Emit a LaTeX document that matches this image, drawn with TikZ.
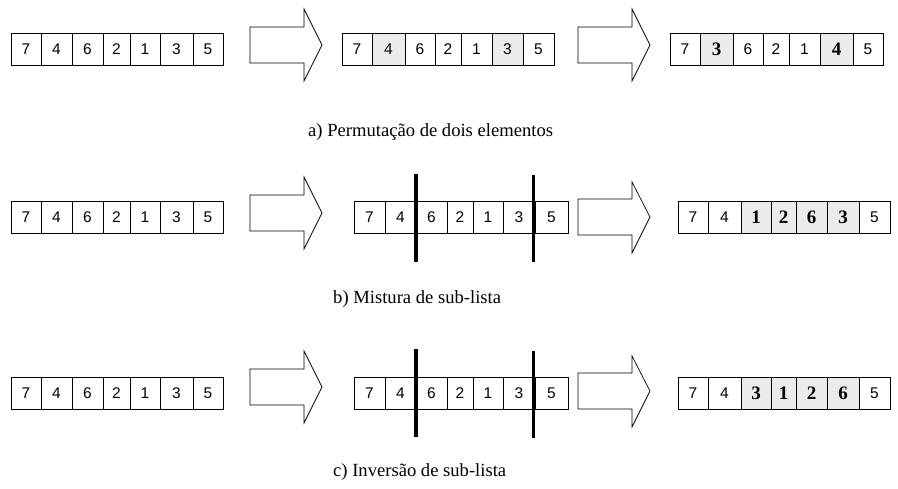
\documentclass[tikz,border=0pt]{standalone}
\usepackage{fontspec}
\setmainfont{Liberation Serif}
\newfontfamily\digitfont{Liberation Sans}
\tikzset{
  cell/.style={draw, line width=0.8pt, inner sep=0pt, minimum height=32pt, font=\digitfont\fontsize{15.5}{15.5}\selectfont},
  hot/.style={cell, fill=gray!16},
  hotb/.style={hot, font=\bfseries\fontsize{19}{19}\selectfont},
  bar/.style={line width=3.6pt},
  blockarrow/.style={line width=0.7pt, line join=miter},
  caption/.style={anchor=base west, inner sep=0pt, font=\fontsize{18.6}{22}\selectfont}
}
\begin{document}
\begin{tikzpicture}[x=1pt, y=-1pt]
  \useasboundingbox (0,0) rectangle (898,488);
  % a) permutacao
  \node[cell, minimum width=30pt] (a11) at (26,49) {7};
  \node[cell, minimum width=31pt] (a12) at (56.5,49) {4};
  \node[cell, minimum width=31pt] (a13) at (87.5,49) {6};
  \node[cell, minimum width=27pt] (a14) at (116.5,49) {2};
  \node[cell, minimum width=30pt] (a15) at (145,49) {1};
  \node[cell, minimum width=33pt] (a16) at (176.5,49) {3};
  \node[cell, minimum width=30pt] (a17) at (208,49) {5};
  \draw[blockarrow] (250,27) -- (304,27) -- (304,9) -- (322,45) -- (304,81) -- (304,63) -- (250,63) -- cycle;
  \node[cell, minimum width=30pt] (a21) at (357,49) {7};
  \node[hot, minimum width=33pt] (a22) at (388.5,49) {4};
  \node[cell, minimum width=30pt] (a23) at (420,49) {6};
  \node[cell, minimum width=26pt] (a24) at (448,49) {2};
  \node[cell, minimum width=31pt] (a25) at (476.5,49) {1};
  \node[hot, minimum width=31pt] (a26) at (507.5,49) {3};
  \node[cell, minimum width=31pt] (a27) at (538.5,49) {5};
  \draw[blockarrow] (578,27) -- (632,27) -- (632,9) -- (650,45) -- (632,81) -- (632,63) -- (578,63) -- cycle;
  \node[cell, minimum width=30pt] (a31) at (685,49) {7};
  \node[hotb, minimum width=33pt] (a32) at (716.5,49) {3};
  \node[cell, minimum width=30pt] (a33) at (748,49) {6};
  \node[cell, minimum width=26pt] (a34) at (776,49) {2};
  \node[cell, minimum width=31pt] (a35) at (804.5,49) {1};
  \node[hotb, minimum width=33pt] (a36) at (836.5,49) {4};
  \node[cell, minimum width=30pt] (a37) at (868,49) {5};
  \node[caption] (capa) at (308,136) {a) Permutação de dois elementos};
  % b) mistura
  \node[cell, minimum width=30pt] (b11) at (26,217.5) {7};
  \node[cell, minimum width=31pt] (b12) at (56.5,217.5) {4};
  \node[cell, minimum width=31pt] (b13) at (87.5,217.5) {6};
  \node[cell, minimum width=27pt] (b14) at (116.5,217.5) {2};
  \node[cell, minimum width=30pt] (b15) at (145,217.5) {1};
  \node[cell, minimum width=33pt] (b16) at (176.5,217.5) {3};
  \node[cell, minimum width=30pt] (b17) at (208,217.5) {5};
  \draw[blockarrow] (250,195) -- (304,195) -- (304,177) -- (322,213) -- (304,249) -- (304,231) -- (250,231) -- cycle;
  \node[cell, minimum width=31pt] (b21) at (369.5,217) {7};
  \node[cell, minimum width=31pt] (b22) at (400.5,217) {4};
  \node[cell, minimum width=31pt] (b23) at (431.5,217) {6};
  \node[cell, minimum width=26pt] (b24) at (460,217) {2};
  \node[cell, minimum width=30pt] (b25) at (488,217) {1};
  \node[cell, minimum width=32pt] (b26) at (519,217) {3};
  \node[cell, minimum width=33pt] (b27) at (551.5,217) {5};
  \draw[bar] (416,174) -- (416,262);
  \draw[bar] (533.5,175) -- (533.5,262);
  \draw[blockarrow] (578,199) -- (632,199) -- (632,182) -- (650,217) -- (632,253) -- (632,235) -- (578,235) -- cycle;
  \node[cell, minimum width=30pt] (b31) at (693,217.5) {7};
  \node[cell, minimum width=33pt] (b32) at (724.5,217.5) {4};
  \node[hotb, minimum width=30pt] (b33) at (756,217.5) {1};
  \node[hotb, minimum width=25pt] (b34) at (783.5,217.5) {2};
  \node[hotb, minimum width=31pt] (b35) at (811.5,217.5) {6};
  \node[hotb, minimum width=32pt] (b36) at (843,217.5) {3};
  \node[cell, minimum width=31pt] (b37) at (874.5,217.5) {5};
  \node[caption] (capb) at (333,303) {b) Mistura de sub-lista};
  % c) inversao
  \node[cell, minimum width=30pt] (c11) at (26,393) {7};
  \node[cell, minimum width=31pt] (c12) at (56.5,393) {4};
  \node[cell, minimum width=31pt] (c13) at (87.5,393) {6};
  \node[cell, minimum width=27pt] (c14) at (116.5,393) {2};
  \node[cell, minimum width=30pt] (c15) at (145,393) {1};
  \node[cell, minimum width=33pt] (c16) at (176.5,393) {3};
  \node[cell, minimum width=30pt] (c17) at (208,393) {5};
  \draw[blockarrow] (250,369) -- (304,369) -- (304,351) -- (322,387) -- (304,423) -- (304,405) -- (250,405) -- cycle;
  \node[cell, minimum width=31pt] (c21) at (369.5,393) {7};
  \node[cell, minimum width=31pt] (c22) at (400.5,393) {4};
  \node[cell, minimum width=31pt] (c23) at (431.5,393) {6};
  \node[cell, minimum width=26pt] (c24) at (460,393) {2};
  \node[cell, minimum width=30pt] (c25) at (488,393) {1};
  \node[cell, minimum width=32pt] (c26) at (519,393) {3};
  \node[cell, minimum width=33pt] (c27) at (551.5,393) {5};
  \draw[bar] (416,349) -- (416,437);
  \draw[bar] (533.5,351) -- (533.5,438);
  \draw[blockarrow] (578,373) -- (632,373) -- (632,356) -- (650,391) -- (632,427) -- (632,409) -- (578,409) -- cycle;
  \node[cell, minimum width=30pt] (c31) at (693,393) {7};
  \node[cell, minimum width=33pt] (c32) at (724.5,393) {4};
  \node[hotb, minimum width=30pt] (c33) at (756,393) {3};
  \node[hotb, minimum width=25pt] (c34) at (783.5,393) {1};
  \node[hotb, minimum width=31pt] (c35) at (811.5,393) {2};
  \node[hotb, minimum width=32pt] (c36) at (843,393) {6};
  \node[cell, minimum width=31pt] (c37) at (874.5,393) {5};
  \node[caption] (capc) at (333,476) {c) Inversão de sub-lista};
\end{tikzpicture}
\end{document}
